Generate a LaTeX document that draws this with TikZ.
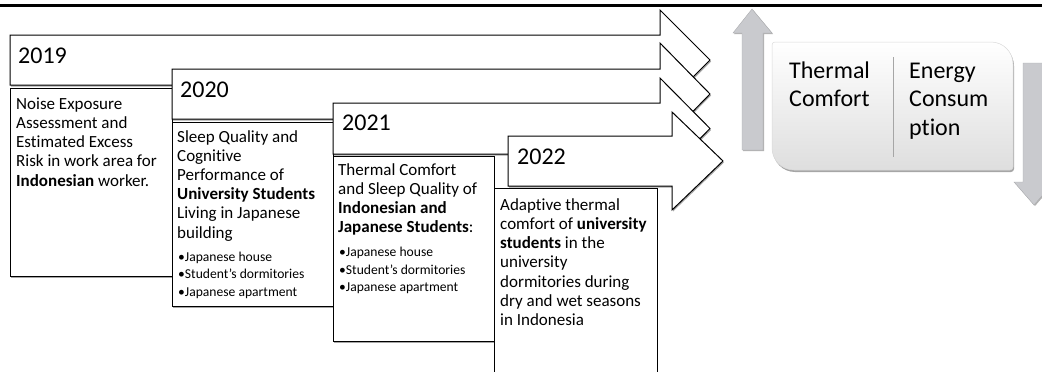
\documentclass[tikz,border=0pt]{standalone}
\usepackage{fontspec}
\setmainfont{Carlito}[Ligatures={NoCommon,NoContextual}]
\usetikzlibrary{shadows}
\definecolor{arrowgray}{RGB}{201,202,206}
\definecolor{panelgray}{RGB}{222,222,222}
\begin{document}
\begin{tikzpicture}[
  x=1pt, y=-1pt,
  softshadow/.style={drop shadow={shadow xshift=1pt, shadow yshift=-1.5pt, opacity=0.35, fill=black}},
  yeararrow/.style={draw=black, line width=1pt, fill=white, line join=miter, softshadow},
  textbox/.style={draw=black, line width=1pt, fill=white, softshadow},
  bodytext/.style={anchor=north west, inner sep=0pt, align=left, font=\fontsize{17}{19.2}\selectfont},
  listtext/.style={anchor=north west, inner sep=0pt, align=left, font=\fontsize{13.6}{17.5}\selectfont},
  yeartext/.style={anchor=base west, inner sep=0pt, font=\fontsize{24}{28}\selectfont},
  paneltext/.style={anchor=north west, inner sep=0pt, align=left, font=\fontsize{24}{28.4}\selectfont},
  grayarrow/.style={fill=arrowgray, draw=arrowgray!85!black, line width=0.4pt,
    drop shadow={shadow xshift=1pt, shadow yshift=-1pt, opacity=0.3, fill=black}},
]
\useasboundingbox (0,0) rectangle (1042,372);

% rule across the top
\draw[line width=2.5pt] (0,5.5) -- (1042,5.5);

% 2019
\draw[yeararrow] (10,35) -- (660,35) -- (660,10) -- (710,60) -- (660,110) -- (660,85) -- (10,85) -- cycle;
\draw[textbox] (10,88) rectangle (172,276);
\node[yeartext] (y2019) at (18,63) {2019};
\node[bodytext] (t2019) at (16,95.6) {\strut Noise Exposure\\Assessment and\\Estimated Excess\\Risk in work area for\\\textbf{Indonesian} worker.};

% 2020
\draw[yeararrow] (172,69) -- (660,69) -- (660,43) -- (710,94) -- (660,145) -- (660,119) -- (172,119) -- cycle;
\draw[textbox] (172,122) rectangle (333,306);
\node[yeartext] (y2020) at (180,97) {2020};
\node[bodytext] (t2020) at (177,128.4) {\strut Sleep Quality and\\Cognitive\\Performance of\\\textbf{University Students}\\Living in Japanese\\building};
\node[listtext] (l2020) at (178,248.8) {\strut •Japanese house\\•Student’s dormitories\\•Japanese apartment};

% 2021
\draw[yeararrow] (333,103) -- (660,103) -- (660,78) -- (710,128.5) -- (660,179) -- (660,154) -- (333,154) -- cycle;
\draw[textbox] (333,156) rectangle (494,341);
\node[yeartext] (y2021) at (342,130.5) {2021};
\node[bodytext] (t2021) at (338,161.6) {\strut Thermal Comfort\\and Sleep Quality of\\\textbf{Indonesian and}\\\textbf{Japanese Students}:};
\node[listtext] (l2021) at (339,244.3) {\strut •Japanese house\\•Student’s dormitories\\•Japanese apartment};

% 2022
\draw[yeararrow] (508,136) -- (672,136) -- (672,112) -- (723,161) -- (672,210) -- (672,186) -- (508,186) -- cycle;
\draw[textbox] (494,188) rectangle (657,390);
\node[yeartext] (y2022) at (517,164) {2022};
\node[bodytext] (t2022) at (500,196.6) {\strut Adaptive thermal\\comfort of \textbf{university}\\\textbf{students} in the\\university\\dormitories during\\dry and wet seasons\\in Indonesia};

% rising arrow
\draw[grayarrow] (742,150) -- (742,33) -- (733,33) -- (752,9) -- (772,33) -- (763,33) -- (763,150) -- cycle;

% falling arrow
\draw[grayarrow] (1023,63) -- (1045,63) -- (1045,182) -- (1054,182) -- (1034,205) -- (1014,182) -- (1023,182) -- cycle;

% panel with two opposite corners rounded
\path[draw=gray!30, line width=0.5pt, top color=white, bottom color=panelgray,
      drop shadow={shadow xshift=1pt, shadow yshift=-2pt, opacity=0.35, fill=black}]
  (772,100) [rounded corners=3pt] -- (772,42) [rounded corners=22pt] -- (1013,42)
  [rounded corners=3pt] -- (1013,170) [rounded corners=22pt] -- (772,170) [sharp corners] -- cycle;
\draw[gray!70, line width=0.8pt] (893,57) -- (893,157);
\node[paneltext] (thermal) at (789,58.4) {\strut Thermal\\Comfort};
\node[paneltext] (energy) at (909,58.4) {\strut Energy\\Consum\\ption};
\end{tikzpicture}
\end{document}
